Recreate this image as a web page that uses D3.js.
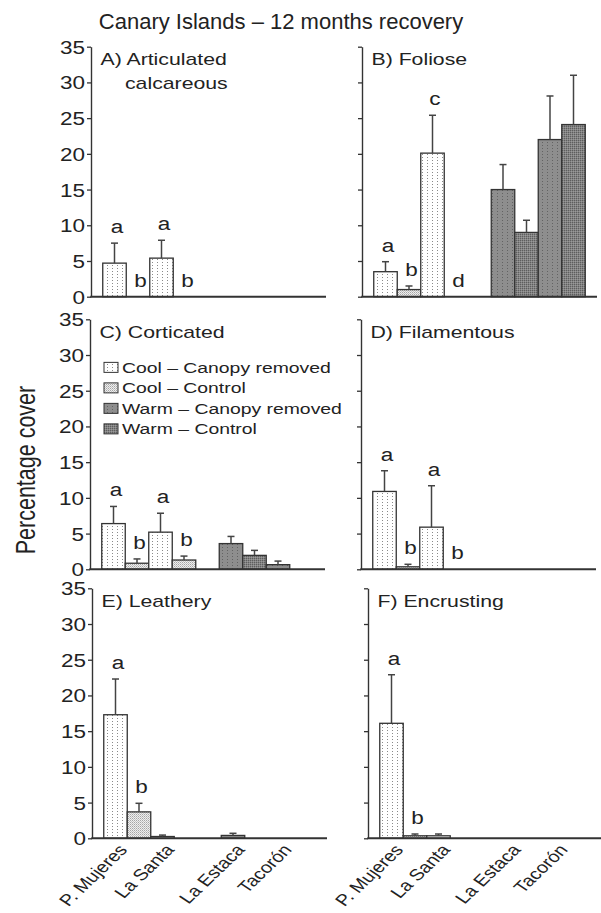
<!DOCTYPE html>
<html>
<head>
<meta charset="utf-8">
<script src="https://cdn.jsdelivr.net/npm/d3@7"></script>
<style>
  body { margin: 0; background: #fff; }
  svg { display: block; }
  text { font-family: "Liberation Sans", Arial, Helvetica, sans-serif; fill: #222; }
</style>
</head>
<body>
<svg width="601" height="913"></svg>
<script>
// sites and treatments, bars ordered site by site
const sites = ['P. Mujeres', 'La Santa', 'La Estaca', 'Tacorón'];
const treatments = ['Cool – Canopy removed', 'Cool – Control', 'Warm – Canopy removed', 'Warm – Control'];
const yTicks = [0, 5, 10, 15, 20, 25, 30, 35];
const panelTitles = [['A) Articulated', 'calcareous'], ['B) Foliose'], ['C) Corticated'],
  ['D) Filamentous'], ['E) Leathery'], ['F) Encrusting']];

// mean cover per bar: PM-CR, PM-Ctrl, LS-CR, LS-Ctrl, LE-CR, LE-Ctrl, Tac-CR, Tac-Ctrl
const meanA = [4.7, 0, 5.4, 0, 0, 0, 0, 0];
const seA = [2.8, 0, 2.5, 0, 0, 0, 0, 0];
const letA = ['a', 'b', 'a', 'b', '', '', '', ''];

const meanB = [3.5, 1.0, 20.1, 0, 15.0, 9.0, 22.0, 24.1];
const seB = [1.4, 0.5, 5.3, 0, 3.5, 1.7, 6.1, 6.9];
const letB = ['a', 'b', 'c', 'd', '', '', '', ''];

const meanC = [6.4, 0.85, 5.2, 1.3, 3.6, 1.95, 0.65, 0];
const seC = [2.4, 0.6, 2.65, 0.55, 1.0, 0.7, 0.5, 0];
const letC = ['a', 'b', 'a', 'b', '', '', '', ''];

const meanD = [10.9, 0.35, 5.9, 0, 0, 0, 0, 0];
const seD = [2.9, 0.35, 5.8, 0, 0, 0, 0, 0];
const letD = ['a', 'b', 'a', 'b', '', '', '', ''];

const meanE = [17.3, 3.7, 0.25, 0, 0.4, 0, 0, 0];
const seE = [5.0, 1.2, 0.2, 0, 0.3, 0, 0, 0];
const letE = ['a', 'b', '', '', '', '', '', ''];

const meanF = [16.1, 0.35, 0.35, 0, 0, 0, 0, 0];
const seF = [6.8, 0.25, 0.25, 0, 0, 0, 0, 0];
const letF = ['a', 'b', '', '', '', '', '', ''];

const means = [meanA, meanB, meanC, meanD, meanE, meanF];
const ses = [seA, seB, seC, seD, seE, seF];
const letters = [letA, letB, letC, letD, letE, letF];

// layout
const SX = 1.25; // the figure text is stretched sideways
const panelPos = [[91, 296.7], [362, 296.7], [90, 569.3], [361, 569.3], [92, 838.3], [368, 838.3]];
const pw = 235;
const ph = 250;
const ink = '#333';

const svg = d3.select('svg');
const defs = svg.append('defs');

function dotPattern(id, w, h, bg, dots) {
  const p = defs.append('pattern')
    .attr('id', id)
    .attr('patternUnits', 'userSpaceOnUse')
    .attr('width', w)
    .attr('height', h);
  p.append('rect').attr('width', w).attr('height', h).attr('fill', bg);
  dots.forEach(d => {
    p.append('rect').attr('x', d[0]).attr('y', d[1]).attr('width', 1).attr('height', 1).attr('fill', d[2]);
  });
}
dotPattern('p0', 5, 3, '#fff', [[2, 1, '#8a8a8a']]);
dotPattern('p1', 2, 2, '#eeeeee', [[0, 0, '#a5a5a5'], [1, 1, '#c4c4c4']]);
dotPattern('p2', 5, 3, '#8e8e8e', [[2, 1, '#636363']]);
dotPattern('p3', 2, 2, '#838383', [[0, 0, '#5e5e5e'], [1, 1, '#9a9a9a']]);
const fills = ['url(#p0)', 'url(#p1)', 'url(#p2)', 'url(#p3)'];

// stretched text helper
function stext(g, x, y, str, size, anchor, rot) {
  return g.append('text')
    .attr('transform', `translate(${x},${y}) scale(${SX},1)` + (rot ? ` rotate(${rot})` : ''))
    .attr('text-anchor', anchor || 'start')
    .style('font-size', size + 'px')
    .text(str);
}

svg.append('text')
  .attr('x', 281)
  .attr('y', 29)
  .attr('text-anchor', 'middle')
  .style('font-size', '22px')
  .text('Canary Islands – 12 months recovery');

stext(svg, 35, 470, 'Percentage cover', 21.5, 'middle', -90);

// bar slot: cool group then one empty slot then warm group
const slot = i => (i < 4 ? 0.5 + i : 1.5 + i);

panelPos.forEach((pos, k) => {
  const [x0, y0] = pos;
  const x = d3.scaleLinear().domain([0, 10]).range([x0, x0 + pw]);
  const y = d3.scaleLinear().domain([0, 35]).range([y0, y0 - ph]);
  const bw = x(1) - x(0);
  const g = svg.append('g');
  const left = k % 2 === 0;

  const rows = means[k].map((m, i) => ({ m, se: ses[k][i], lt: letters[k][i], i }));

  g.selectAll('rect.bar')
    .data(rows.filter(d => d.m > 0))
    .join('rect')
    .attr('class', 'bar')
    .attr('x', d => x(slot(d.i)))
    .attr('y', d => y(d.m))
    .attr('width', bw)
    .attr('height', d => y(0) - y(d.m))
    .attr('fill', d => fills[(d.i >= 4 ? 2 : 0) + (d.i % 2)])
    .attr('stroke', ink)
    .attr('stroke-width', 1.3);

  const eb = g.selectAll('g.err')
    .data(rows.filter(d => d.se > 0))
    .join('g')
    .attr('class', 'err')
    .attr('stroke', '#444')
    .attr('stroke-width', 1.5);
  eb.append('line')
    .attr('x1', d => x(slot(d.i) + 0.5))
    .attr('x2', d => x(slot(d.i) + 0.5))
    .attr('y1', d => y(d.m))
    .attr('y2', d => y(d.m + d.se));
  eb.append('line')
    .attr('x1', d => x(slot(d.i) + 0.5) - 3.5)
    .attr('x2', d => x(slot(d.i) + 0.5) + 3.5)
    .attr('y1', d => y(d.m + d.se))
    .attr('y2', d => y(d.m + d.se));

  rows.filter(d => d.lt).forEach(d => {
    stext(g, x(slot(d.i) + 0.5) + 2.5, y(d.m + d.se) - 10, d.lt, 18, 'middle');
  });

  // axes
  const ax = g.append('g')
    .attr('transform', `translate(${x0},0)`)
    .call(d3.axisLeft(y).tickValues(yTicks).tickSize(4).tickSizeOuter(0)
      .tickFormat(left ? d3.format('d') : () => ''));
  ax.select('.domain').attr('stroke', ink).attr('stroke-width', 1.4);
  ax.selectAll('.tick line').attr('stroke', ink).attr('stroke-width', 1.3);
  ax.selectAll('.tick text')
    .attr('x', null)
    .attr('dy', null)
    .attr('fill', '#222')
    .attr('font-family', null)
    .attr('font-size', null)
    .attr('transform', 'translate(-6,6.5) scale(' + SX + ',1)')
    .style('font-size', '18px');

  g.append('line')
    .attr('x1', x0 - 0.7)
    .attr('x2', x(10))
    .attr('y1', y0)
    .attr('y2', y0)
    .attr('stroke', ink)
    .attr('stroke-width', 2);

  const tl = panelTitles[k];
  stext(g, x0 + 9.5, y(35) + 18.5, tl[0], 17);
  if (tl[1]) stext(g, x0 + 34, y(35) + 42.5, tl[1], 17);

  // site labels on bottom row
  if (k >= 4) {
    sites.forEach((s, j) => {
      const c = x(slot(j * 2) + 1);
      stext(g, c + 1, y0 + 12, s, 16, 'end', -50);
    });
  }

  // legend in panel C
  if (k === 2) {
    treatments.forEach((t, j) => {
      const ly = y(27.5) + j * 20.5;
      g.append('rect')
        .attr('x', x0 + 14)
        .attr('y', ly - 10.5)
        .attr('width', 14)
        .attr('height', 10)
        .attr('fill', fills[j])
        .attr('stroke', ink)
        .attr('stroke-width', 1);
      stext(g, x0 + 32, ly, t, 15.5);
    });
  }
});
</script>
</body>
</html>
